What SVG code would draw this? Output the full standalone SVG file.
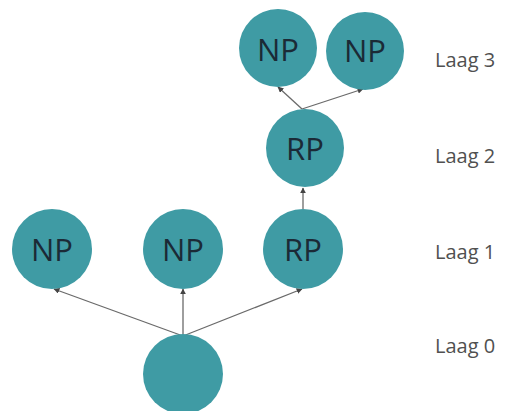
<svg xmlns="http://www.w3.org/2000/svg" width="512" height="411" viewBox="0 0 512 411">
<defs>
<style>
.n{fill:#3f9ba4}
.t{font-family:"Open Sans","Noto Sans",sans-serif;font-size:31px;fill:#1b2a36;text-anchor:middle}
.l{font-family:"Open Sans","Noto Sans",sans-serif;font-size:20px;fill:#505050}
.c{stroke:#6a6a6a;stroke-width:1.3;fill:none;marker-end:url(#a)}
</style>
<marker id="a" viewBox="0 0 10 10" refX="9" refY="5" markerWidth="6" markerHeight="6" orient="auto-start-reverse" markerUnits="userSpaceOnUse"><path d="M0,0L10,5L0,10z" fill="#444"/></marker>
</defs>
<rect width="512" height="411" fill="#fff"/>
<g id="connectors">
<line class="c" x1="183" y1="336" x2="54" y2="289"/>
<line class="c" x1="183" y1="336" x2="183" y2="289"/>
<line class="c" x1="183" y1="336" x2="302" y2="289"/>
<line class="c" x1="303" y1="209" x2="303" y2="188"/>
<line class="c" x1="302" y1="109" x2="278" y2="87"/>
<line class="c" x1="302" y1="109" x2="363" y2="89"/>
</g>
<g id="np3a"><circle class="n" cx="278" cy="48" r="39"/><text class="t" x="278" y="61">NP</text></g>
<g id="np3b"><circle class="n" cx="365" cy="51" r="39"/><text class="t" x="365" y="62">NP</text></g>
<g id="rp2"><circle class="n" cx="305" cy="148" r="39"/><text class="t" x="305" y="160">RP</text></g>
<g id="np1a"><circle class="n" cx="52" cy="249" r="40"/><text class="t" x="52" y="261">NP</text></g>
<g id="np1b"><circle class="n" cx="183" cy="249" r="40"/><text class="t" x="183" y="261">NP</text></g>
<g id="rp1"><circle class="n" cx="303" cy="249" r="40"/><text class="t" x="303" y="261">RP</text></g>
<g id="root"><circle class="n" cx="183" cy="374" r="40"/></g>
<g id="labels">
<text class="l" x="435" y="67">Laag 3</text>
<text class="l" x="435" y="163">Laag 2</text>
<text class="l" x="435" y="259">Laag 1</text>
<text class="l" x="435" y="353">Laag 0</text>
</g>
</svg>
